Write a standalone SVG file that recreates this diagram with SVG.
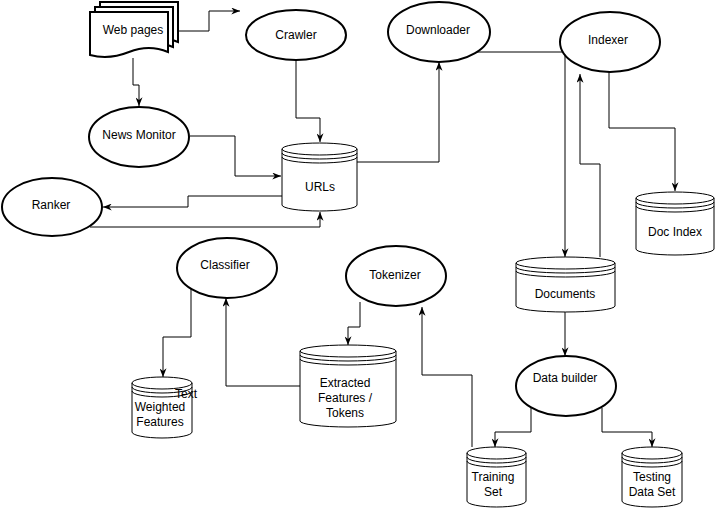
<svg xmlns="http://www.w3.org/2000/svg" width="717" height="510" viewBox="0 0 717 510">
<defs>
<style>
text{font-family:"Liberation Sans",Arial,sans-serif;font-size:12px;fill:#000;text-anchor:middle;dominant-baseline:central}
.ell{fill:#fff;stroke:#000;stroke-width:2}
.doc{fill:#fff;stroke:#000;stroke-width:2}
.cyl{fill:#fff;stroke:#000;stroke-width:1}
.ln{fill:none;stroke:#000;stroke-width:1}
.edge{fill:none;stroke:#000;stroke-width:1;marker-end:url(#arr)}
</style>
<marker id="arr" viewBox="0 0 10 8" markerWidth="9" markerHeight="7" refX="10" refY="4" orient="auto" markerUnits="userSpaceOnUse">
<path d="M0,0 L10,4 L0,8 L3,4 Z" fill="#000"/>
</marker>
</defs>
<rect width="717" height="510" fill="#fff"/>

<g id="connectors">
<polyline class="edge" points="178,31 209,31 209,11 240,11"/>
<polyline class="edge" points="133,58 133,85 139,85 139,106"/>
<polyline class="edge" points="296,60 296,118 320,118 320,142"/>
<polyline class="edge" points="190,136 235,136 235,176 281,176"/>
<polyline class="edge" points="282,196 188,196 188,207 103,207"/>
<polyline class="edge" points="90,227 320,227 320,212"/>
<polyline class="edge" points="357,162 439,162 439,62"/>
<polyline class="edge" points="477,52 565,52 565,257"/>
<polyline class="edge" points="600,257 600,164 580,164 580,74"/>
<polyline class="edge" points="609,72 609,128 675,128 675,191"/>
<polyline class="edge" points="565,312 565,356"/>
<polyline class="edge" points="531,408 531,432 495,432 495,447"/>
<polyline class="edge" points="602,408 602,432 652,432 652,447"/>
<polyline class="edge" points="472,447 472,375 422,375 422,307"/>
<polyline class="edge" points="360,302 360,327 348,327 348,345"/>
<polyline class="edge" points="300,386 226,386 226,298"/>
<polyline class="edge" points="191,288 191,337 163,337 163,377"/>
</g>

<g id="webpages">
<path class="doc" d="M100,2 H178 V42 Q159,34 139,42 T100,45 Z"/>
<path class="doc" d="M95,7 H173 V47 Q154,39 134,47 T95,50 Z"/>
<path class="doc" d="M90,12 H168 V52 Q149,44 129,52 T90,55 Z"/>
<text x="133" y="30">Web pages</text>
</g>

<g id="crawler"><ellipse class="ell" cx="296" cy="35" rx="50" ry="25"/><text x="296" y="35">Crawler</text></g>
<g id="downloader"><ellipse class="ell" cx="439" cy="32" rx="51" ry="30"/><text x="438" y="30">Downloader</text></g>
<g id="indexer"><ellipse class="ell" cx="610" cy="42" rx="50" ry="30"/><text x="608" y="40">Indexer</text></g>
<g id="newsmonitor"><ellipse class="ell" cx="139" cy="137" rx="50" ry="30"/><text x="139" y="135">News Monitor</text></g>
<g id="ranker"><ellipse class="ell" cx="52" cy="207" rx="50" ry="29"/><text x="51" y="205">Ranker</text></g>
<g id="classifier"><ellipse class="ell" cx="227" cy="268" rx="50" ry="30"/><text x="225" y="265">Classifier</text></g>
<g id="tokenizer"><ellipse class="ell" cx="396" cy="276" rx="50" ry="30"/><text x="395" y="275">Tokenizer</text></g>
<g id="databuilder"><ellipse class="ell" cx="566" cy="386" rx="50" ry="30"/><text x="565" y="378">Data builder</text></g>

<g id="urls">
<path class="cyl" d="M282,149 A37.5,6 0 0 1 357,149 L357,205 A37.5,6 0 0 1 282,205 Z"/>
<path class="ln" d="M282,149 A37.5,6 0 0 0 357,149 M282,153 A37.5,6 0 0 0 357,153 M282,157 A37.5,6 0 0 0 357,157"/>
<text x="320" y="187">URLs</text>
</g>

<g id="docindex">
<path class="cyl" d="M636,198 A39,6 0 0 1 714,198 L714,249 A39,6 0 0 1 636,249 Z"/>
<path class="ln" d="M636,198 A39,6 0 0 0 714,198 M636,202 A39,6 0 0 0 714,202 M636,206 A39,6 0 0 0 714,206"/>
<text x="675" y="232">Doc Index</text>
</g>

<g id="documents">
<path class="cyl" d="M516,263 A49.5,6 0 0 1 615,263 L615,306 A49.5,6 0 0 1 516,306 Z"/>
<path class="ln" d="M516,263 A49.5,6 0 0 0 615,263 M516,267 A49.5,6 0 0 0 615,267 M516,271 A49.5,6 0 0 0 615,271"/>
<text x="565" y="294">Documents</text>
</g>

<g id="extracted">
<path class="cyl" d="M300,351 A48,6 0 0 1 396,351 L396,421 A48,6 0 0 1 300,421 Z"/>
<path class="ln" d="M300,351 A48,6 0 0 0 396,351 M300,355 A48,6 0 0 0 396,355 M300,359 A48,6 0 0 0 396,359"/>
<text x="345" y="383">Extracted</text>
<text x="345" y="398">Features /</text>
<text x="345" y="413">Tokens</text>
</g>

<g id="weighted">
<path class="cyl" d="M132,383 A30,6 0 0 1 192,383 L192,432 A30,6 0 0 1 132,432 Z"/>
<path class="ln" d="M132,383 A30,6 0 0 0 192,383 M132,387 A30,6 0 0 0 192,387 M132,391 A30,6 0 0 0 192,391"/>
<text x="160" y="407">Weighted</text>
<text x="160" y="422">Features</text>
<text x="186" y="394">Text</text>
</g>

<g id="training">
<path class="cyl" d="M467,453 A29.5,6 0 0 1 526,453 L526,501 A29.5,6 0 0 1 467,501 Z"/>
<path class="ln" d="M467,453 A29.5,6 0 0 0 526,453 M467,457 A29.5,6 0 0 0 526,457 M467,461 A29.5,6 0 0 0 526,461"/>
<text x="493" y="477">Training</text>
<text x="493" y="492">Set</text>
</g>

<g id="testing">
<path class="cyl" d="M622,453 A30,6 0 0 1 682,453 L682,501 A30,6 0 0 1 622,501 Z"/>
<path class="ln" d="M622,453 A30,6 0 0 0 682,453 M622,457 A30,6 0 0 0 682,457 M622,461 A30,6 0 0 0 682,461"/>
<text x="652" y="477">Testing</text>
<text x="652" y="492">Data Set</text>
</g>
</svg>
